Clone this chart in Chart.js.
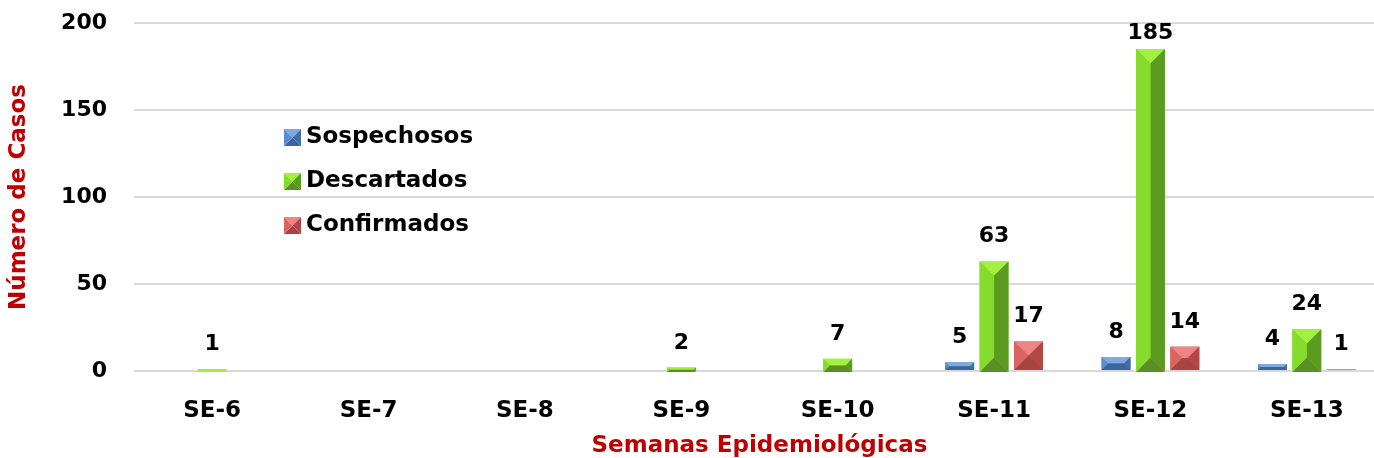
<!DOCTYPE html>
<html>
<head>
<meta charset="utf-8">
<script src="https://cdn.jsdelivr.net/npm/chart.js@4.4.0/dist/chart.umd.min.js"></script>
<style>
    html, body { margin: 0; padding: 0; background: #fff; overflow: hidden; }
    #wrap { width: 1386px; height: 458px; }
</style>
</head>
<body>
<div id="wrap"><canvas id="casosChart"></canvas></div>
<script>
const semanas = ['SE-6', 'SE-7', 'SE-8', 'SE-9', 'SE-10', 'SE-11', 'SE-12', 'SE-13'];
const sospechosos = [0, 0, 0, 0, 0, 5, 8, 4];
const descartados = [1, 0, 0, 2, 7, 63, 185, 24];
const confirmados = [0, 0, 0, 0, 0, 17, 14, 1];
const yTicks = [0, 50, 100, 150, 200];

const FONT = "'DejaVu Sans', 'Liberation Sans', Arial, sans-serif";

// Bevel face colours per series (drop = how far the shape sinks under the baseline)
const bevelBlue = { base: '#4f81bd', top: '#80aadd', left: '#5b8dcc', right: '#3f6ea8', bottom: '#3b659b', drop: 0 };
const bevelGreen = { base: '#7ccf2a', top: '#a4f040', left: '#86dc2d', right: '#5b9b20', bottom: '#5c8e26', drop: 2 };
const bevelRed = { base: '#c0504d', top: '#ee8584', left: '#da6462', right: '#b24846', bottom: '#a64442', drop: 0 };

function drawBevel(ctx, left, top, w, h, c) {
    const right = left + w, bottom = top + h;
    const poly = (pts, color) => {
        ctx.beginPath();
        ctx.moveTo(pts[0][0], pts[0][1]);
        pts.slice(1).forEach(p => ctx.lineTo(p[0], p[1]));
        ctx.closePath();
        ctx.fillStyle = color;
        ctx.fill();
    };
    // very thin bars: just a flat light strip
    if (h < 4) {
        ctx.fillStyle = c.top;
        ctx.fillRect(left, top, w, h);
        return;
    }
    if (h >= w) {
        const a = [left + w / 2, top + w / 2];
        const b = [left + w / 2, bottom - w / 2];
        poly([[left, top], [right, top], a], c.top);
        poly([[right, top], [right, bottom], b, a], c.right);
        poly([[right, bottom], [left, bottom], b], c.bottom);
        poly([[left, bottom], [left, top], a, b], c.left);
    } else {
        const a = [left + h / 2, top + h / 2];
        const b = [right - h / 2, top + h / 2];
        poly([[left, top], [right, top], b, a], c.top);
        poly([[right, top], [right, bottom], b], c.right);
        poly([[right, bottom], [left, bottom], a, b], c.bottom);
        poly([[left, bottom], [left, top], a], c.left);
    }
}

// Bevelled bars + value labels
const bevelPlugin = {
    id: 'bevel',
    afterDatasetsDraw(chart) {
        const ctx = chart.ctx;
        const area = chart.chartArea;
        ctx.save();
        chart.data.datasets.forEach((ds, i) => {
            const meta = chart.getDatasetMeta(i);
            meta.data.forEach((bar, j) => {
                const value = ds.data[j];
                if (!value) return;
                const { x, y, base, width } = bar.getProps(['x', 'y', 'base', 'width'], true);
                const top = Math.min(y, base);
                const h = Math.abs(base - y) + ds.bevel.drop;
                drawBevel(ctx, x - width / 2, top, width, h, ds.bevel);

                ctx.fillStyle = '#000';
                ctx.font = 'bold 22px ' + FONT;
                ctx.textAlign = 'center';
                ctx.textBaseline = 'alphabetic';
                ctx.fillText(String(value), x, Math.max(top - 19, area.top + 16));
            });
        });
        ctx.restore();
    }
};

// Legend drawn inside the plot area
const legendPlugin = {
    id: 'insideLegend',
    afterDraw(chart) {
        const ctx = chart.ctx;
        const area = chart.chartArea;
        const x0 = area.left + 150;
        ctx.save();
        chart.data.datasets.forEach((ds, i) => {
            const cy = area.top + 114 + i * 44;
            drawBevel(ctx, x0, cy - 8, 17, 17, ds.bevel);
            ctx.fillStyle = '#000';
            ctx.font = 'bold 23px ' + FONT;
            ctx.textAlign = 'left';
            ctx.textBaseline = 'middle';
            ctx.fillText(ds.label, x0 + 22, cy);
        });
        ctx.restore();
    }
};

const ctx = document.getElementById('casosChart');

new Chart(ctx, {
    type: 'bar',
    data: {
        labels: semanas,
        datasets: [
            { label: 'Sospechosos', data: sospechosos, backgroundColor: bevelBlue.base, bevel: bevelBlue },
            { label: 'Descartados', data: descartados, backgroundColor: bevelGreen.base, bevel: bevelGreen },
            { label: 'Confirmados', data: confirmados, backgroundColor: bevelRed.base, bevel: bevelRed }
        ]
    },
    options: {
        responsive: true,
        maintainAspectRatio: false,
        animation: false,
        layout: {
            padding: { top: 23, left: 0, right: 1, bottom: 0 }
        },
        datasets: {
            bar: { categoryPercentage: 0.66, barPercentage: 0.84 }
        },
        plugins: {
            legend: { display: false },
            tooltip: { enabled: false }
        },
        scales: {
            x: {
                grid: { display: false },
                border: { display: false },
                ticks: {
                    color: '#000',
                    padding: 18,
                    font: { family: FONT, size: 23, weight: 'bold' }
                },
                title: {
                    display: true,
                    text: 'Semanas Epidemiológicas',
                    color: '#c00000',
                    padding: { top: 0, bottom: -2 },
                    font: { family: FONT, size: 23, weight: 'bold' }
                },
                afterFit: s => { s.height = 87; }
            },
            y: {
                min: 0,
                max: 200,
                afterBuildTicks: s => { s.ticks = yTicks.map(v => ({ value: v })); },
                grid: { color: '#d9d9d9', lineWidth: 2, drawTicks: false },
                border: { display: false },
                ticks: {
                    color: '#000',
                    padding: 27,
                    font: { family: FONT, size: 22, weight: 'bold' }
                },
                title: {
                    display: true,
                    text: 'Número de Casos',
                    color: '#c00000',
                    padding: { top: 5, bottom: 0 },
                    font: { family: FONT, size: 23, weight: 'bold' }
                },
                afterFit: s => {
                    s.width = 134;
                    s.paddingTop = 0;
                    s.paddingBottom = 0;
                }
            }
        }
    },
    plugins: [bevelPlugin, legendPlugin]
});
</script>
</body>
</html>
